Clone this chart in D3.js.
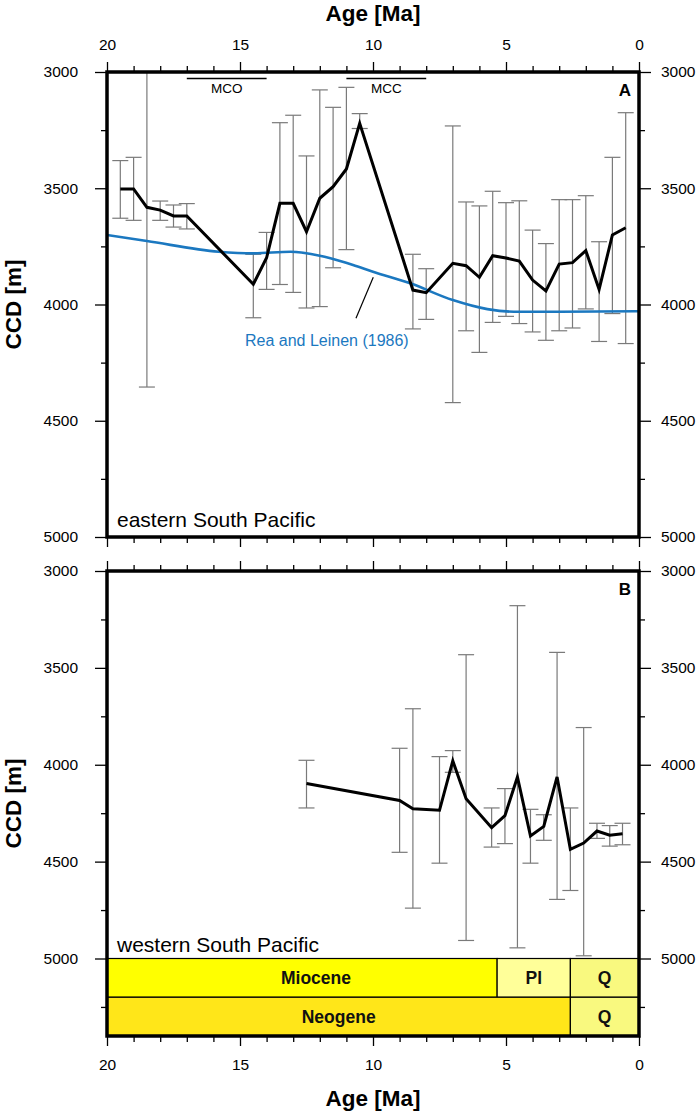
<!DOCTYPE html>
<html><head><meta charset="utf-8">
<script src="https://cdn.jsdelivr.net/npm/d3@7"></script>
<style>
html,body{margin:0;padding:0;background:#fff;}
svg text{font-family:"Liberation Sans",Arial,Helvetica,sans-serif;}
</style></head>
<body>
<svg id="chart" width="699" height="1112"></svg>
<script>
// ---------- data ----------
const ageTicks = [20, 15, 10, 5, 0];
const ageMinorTicks = [19,18,17,16,14,13,12,11,9,8,7,6,4,3,2,1];
const ccdTicks = [3000, 3500, 4000, 4500, 5000];
const ccdMinorTicks = [3250, 3750, 4250, 4750];
const ccdMinorTicksB = [3250, 3750, 4250, 4750, 5250];

// Panel A: eastern South Pacific
const eastAge = [19.5,19,18.5,18,17.5,17,14.5,14,13.5,13,12.5,12,11.5,11,10.5,8.5,8,7,6.5,6,5.5,5,4.5,4,3.5,3,2.5,2,1.5,1,0.5];
const eastCCD = [3503,3503,3582,3594,3619,3619,3913,3799,3565,3565,3687,3543,3493,3417,3221,3938,3949,3823,3833,3883,3790,3800,3813,3895,3942,3826,3820,3768,3935,3701,3670];
const eastTop = [3381,3367,2950,3555,3572,3566,3784,3690,3218,3186,3361,3077,3152,3066,3179,3784,3846,3232,3559,3576,3513,3562,3554,3680,3738,3549,3549,3532,3730,3367,3175];
const eastBot = [3629,3638,4355,3638,3667,3675,4057,3935,3914,3948,4015,4009,3842,3764,3243,4105,4064,4422,4113,4206,4077,4051,4082,4118,4154,4113,4101,4019,4159,4039,4168];

// Rea and Leinen (1986)
const reaAge = [20,18.5,15.8,14.5,13.1,12,11.6,10.75,10,8.6,7,5.7,4.7,3,0];
const reaCCD = [3701,3727,3773,3780,3773,3790,3801,3830,3859,3909,3981,4020,4031,4031,4029];

// Panel B: western South Pacific
const westAge = [12.5,9,8.5,7.5,7,6.5,5.54,5.04,4.57,4.08,3.58,3.08,2.58,2.08,1.58,1.1,0.62];
const westCCD = [4097,4184,4227,4235,3980,4175,4325,4263,4063,4368,4318,4063,4437,4404,4342,4364,4356];
const westTop = [3977,3915,3711,3958,3927,3432,4223,4123,3179,4230,4258,3420,4223,3808,4302,4314,4302];
const westBot = [4223,4452,4740,4508,4039,4907,4425,4407,4945,4508,4390,4695,4649,4986,4380,4420,4413];

// Climate events
const eventNames = ["MCO", "MCC"];
const eventStart = [17, 11];
const eventEnd = [14, 8];

// Geologic time scale
const epochNames = ["Miocene", "Pl", "Q"];
const epochStart = [23.03, 5.333, 2.58];
const epochEnd = [5.333, 2.58, 0];
const epochColors = ["#ffff00", "#ffff99", "#f9f97f"];
const periodNames = ["Neogene", "Q"];
const periodStart = [23.03, 2.58];
const periodEnd = [2.58, 0];
const periodColors = ["#ffe619", "#f9f97f"];

// ---------- layout ----------
const svg = d3.select("#chart");
const xL = 107, xR = 639;
const x = d3.scaleLinear().domain([20, 0]).range([xL, xR]);
const A = {top: 72, bot: 537, y: d3.scaleLinear().domain([3000, 5000]).range([72, 537])};
const B = {top: 571, bot: 1036, y: d3.scaleLinear().domain([3000, 5400]).range([571, 1036])};
const tickFont = "15.5px";

function styleAxis(g, labels) {
  g.select(".domain").remove();
  g.selectAll(".tick line").attr("stroke", "#000").attr("stroke-width", 1.3);
  g.selectAll(".tick text").attr("fill", "#000").style("font-size", tickFont);
  if (!labels) g.selectAll(".tick text").remove();
}

function drawAxes(P, opts) {
  const root = svg.append("g");
  root.append("g").attr("transform", `translate(${xL},0)`)
    .call(d3.axisLeft(P.y).tickValues(ccdTicks).tickSize(12).tickPadding(17).tickFormat(d3.format("d")))
    .call(g => styleAxis(g, true));
  root.append("g").attr("transform", `translate(${xL},0)`)
    .call(d3.axisLeft(P.y).tickValues(opts.minorY).tickSize(6).tickFormat(""))
    .call(g => styleAxis(g, false));
  root.append("g").attr("transform", `translate(${xR},0)`)
    .call(d3.axisRight(P.y).tickValues(ccdTicks).tickSize(12).tickPadding(10).tickFormat(d3.format("d")))
    .call(g => styleAxis(g, true));
  root.append("g").attr("transform", `translate(${xR},0)`)
    .call(d3.axisRight(P.y).tickValues(opts.minorY).tickSize(6).tickFormat(""))
    .call(g => styleAxis(g, false));
  root.append("g").attr("transform", `translate(0,${P.top})`)
    .call(d3.axisTop(x).tickValues(ageTicks).tickSize(10).tickPadding(12).tickFormat(d3.format("d")))
    .call(g => styleAxis(g, opts.topLabels));
  root.append("g").attr("transform", `translate(0,${P.top})`)
    .call(d3.axisTop(x).tickValues(ageMinorTicks).tickSize(6).tickFormat(""))
    .call(g => styleAxis(g, false));
  root.append("g").attr("transform", `translate(0,${P.bot})`)
    .call(d3.axisBottom(x).tickValues(ageTicks).tickSize(10).tickPadding(13).tickFormat(d3.format("d")))
    .call(g => styleAxis(g, opts.bottomLabels));
  root.append("g").attr("transform", `translate(0,${P.bot})`)
    .call(d3.axisBottom(x).tickValues(ageMinorTicks).tickSize(6).tickFormat(""))
    .call(g => styleAxis(g, false));
}

function clip(id, P) {
  svg.append("clipPath").attr("id", id).append("rect")
    .attr("x", xL).attr("y", P.top).attr("width", xR - xL).attr("height", P.bot - P.top);
}

function errorBars(g, P, ages, tops, bots) {
  const idx = d3.range(ages.length);
  const eb = g.append("g").attr("stroke", "#7a7a7a").attr("stroke-width", 1.2).attr("fill", "none");
  eb.selectAll("line.v").data(idx).join("line").attr("class", "v")
    .attr("x1", i => x(ages[i])).attr("x2", i => x(ages[i]))
    .attr("y1", i => P.y(tops[i])).attr("y2", i => P.y(bots[i]));
  eb.selectAll("line.t").data(idx).join("line").attr("class", "t")
    .attr("x1", i => x(ages[i]) - 8).attr("x2", i => x(ages[i]) + 8)
    .attr("y1", i => P.y(tops[i])).attr("y2", i => P.y(tops[i]));
  eb.selectAll("line.b").data(idx).join("line").attr("class", "b")
    .attr("x1", i => x(ages[i]) - 8).attr("x2", i => x(ages[i]) + 8)
    .attr("y1", i => P.y(bots[i])).attr("y2", i => P.y(bots[i]));
}

// ---------- Panel A ----------
clip("clipA", A);
const gA = svg.append("g").attr("clip-path", "url(#clipA)");
errorBars(gA, A, eastAge, eastTop, eastBot);
gA.append("path")
  .datum(d3.range(reaAge.length))
  .attr("fill", "none").attr("stroke", "#1b78c0").attr("stroke-width", 2.6)
  .attr("d", d3.line().x(i => x(reaAge[i])).y(i => A.y(reaCCD[i])).curve(d3.curveMonotoneX));
gA.append("path")
  .datum(d3.range(eastAge.length))
  .attr("fill", "none").attr("stroke", "#000").attr("stroke-width", 3).attr("stroke-linejoin", "miter")
  .attr("d", d3.line().x(i => x(eastAge[i])).y(i => A.y(eastCCD[i])));

eventNames.forEach((n, i) => {
  gA.append("line").attr("x1", x(eventStart[i])).attr("x2", x(eventEnd[i]))
    .attr("y1", 78.5).attr("y2", 78.5).attr("stroke", "#000").attr("stroke-width", 1.3);
  svg.append("text").attr("x", (x(eventStart[i]) + x(eventEnd[i])) / 2).attr("y", 93)
    .attr("text-anchor", "middle").style("font-size", "13.5px").text(n);
});

svg.append("line").attr("x1", x(9.99)).attr("y1", A.y(3883)).attr("x2", x(10.64)).attr("y2", A.y(4059))
  .attr("stroke", "#000").attr("stroke-width", 1.2);
svg.append("text").attr("x", 245).attr("y", 346).attr("fill", "#1b78c0")
  .style("font-size", "16px").text("Rea and Leinen (1986)");

svg.append("text").attr("x", 117).attr("y", 527).style("font-size", "21px").text("eastern South Pacific");
svg.append("text").attr("x", 631).attr("y", 96).attr("text-anchor", "end")
  .style("font-size", "17px").style("font-weight", "bold").text("A");

drawAxes(A, {minorY: ccdMinorTicks, topLabels: true, bottomLabels: false});
svg.append("rect").attr("x", xL).attr("y", A.top).attr("width", xR - xL).attr("height", A.bot - A.top)
  .attr("fill", "none").attr("stroke", "#000").attr("stroke-width", 3.5);

// ---------- Panel B ----------
clip("clipB", B);
const gB = svg.append("g").attr("clip-path", "url(#clipB)");
const ts = gB.append("g");
epochNames.forEach((n, i) => {
  ts.append("rect").attr("x", x(Math.min(20.5, epochStart[i]))).attr("y", B.y(5000))
    .attr("width", x(epochEnd[i]) - x(Math.min(20.5, epochStart[i]))).attr("height", B.y(5200) - B.y(5000))
    .attr("fill", epochColors[i]).attr("stroke", "#000").attr("stroke-width", 1.2);
});
periodNames.forEach((n, i) => {
  ts.append("rect").attr("x", x(Math.min(20.5, periodStart[i]))).attr("y", B.y(5200))
    .attr("width", x(periodEnd[i]) - x(Math.min(20.5, periodStart[i]))).attr("height", B.y(5400) - B.y(5200))
    .attr("fill", periodColors[i]).attr("stroke", "#000").attr("stroke-width", 1.2);
});
const epochLabelX = [316, (x(epochStart[1]) + x(epochEnd[1])) / 2, (x(epochStart[2]) + x(epochEnd[2])) / 2];
epochNames.forEach((n, i) => {
  svg.append("text").attr("x", epochLabelX[i]).attr("y", B.y(5100) + 6.5).attr("text-anchor", "middle")
    .style("font-size", "17.5px").style("font-weight", "bold").attr("fill", "#111").text(n);
});
periodNames.forEach((n, i) => {
  const x0 = Math.max(x(Math.min(20, periodStart[i])), xL);
  svg.append("text").attr("x", (x0 + x(periodEnd[i])) / 2).attr("y", B.y(5300) + 6.5).attr("text-anchor", "middle")
    .style("font-size", "17.5px").style("font-weight", "bold").attr("fill", "#111").text(n);
});

errorBars(gB, B, westAge, westTop, westBot);
gB.append("path")
  .datum(d3.range(westAge.length))
  .attr("fill", "none").attr("stroke", "#000").attr("stroke-width", 3).attr("stroke-linejoin", "miter")
  .attr("d", d3.line().x(i => x(westAge[i])).y(i => B.y(westCCD[i])));

svg.append("text").attr("x", 117).attr("y", 952).style("font-size", "21px").text("western South Pacific");
svg.append("text").attr("x", 631).attr("y", 595).attr("text-anchor", "end")
  .style("font-size", "17px").style("font-weight", "bold").text("B");

drawAxes(B, {minorY: ccdMinorTicksB, topLabels: false, bottomLabels: true});
svg.append("rect").attr("x", xL).attr("y", B.top).attr("width", xR - xL).attr("height", B.bot - B.top)
  .attr("fill", "none").attr("stroke", "#000").attr("stroke-width", 3.5);

// ---------- axis titles ----------
svg.append("text").attr("x", (xL + xR) / 2).attr("y", 21).attr("text-anchor", "middle")
  .style("font-size", "22.5px").style("font-weight", "bold").text("Age [Ma]");
svg.append("text").attr("x", (xL + xR) / 2).attr("y", 1106).attr("text-anchor", "middle")
  .style("font-size", "22.5px").style("font-weight", "bold").text("Age [Ma]");
[[A.top, A.bot], [B.top, B.bot]].forEach(([t, b]) => {
  svg.append("text").attr("transform", `translate(21,${(t + b) / 2}) rotate(-90)`).attr("text-anchor", "middle")
    .style("font-size", "22.5px").style("font-weight", "bold").text("CCD [m]");
});
</script>
</body></html>
